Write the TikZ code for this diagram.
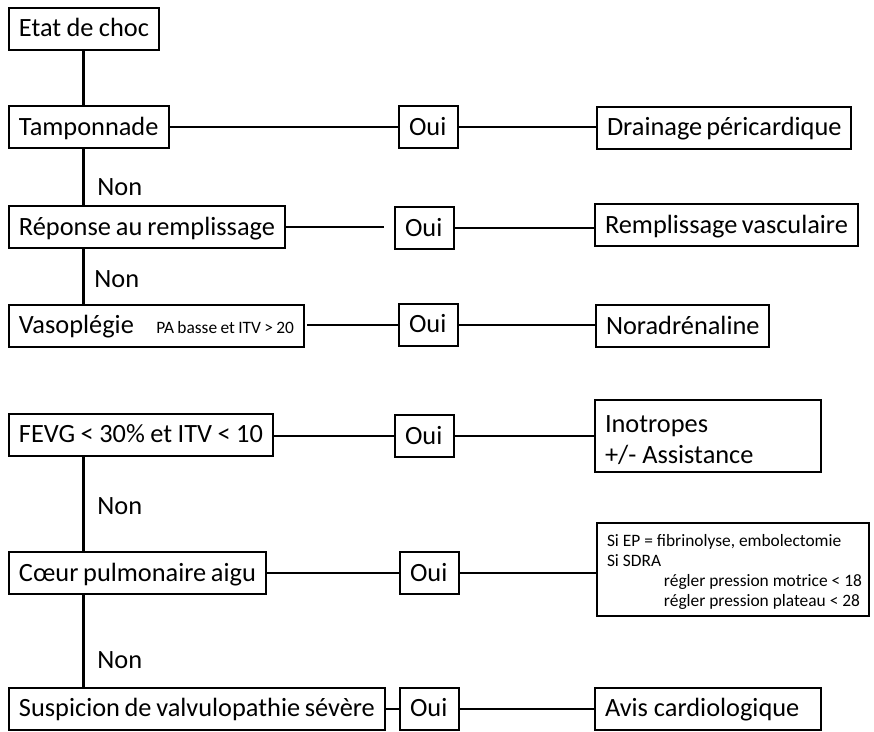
\documentclass[tikz,border=0pt]{standalone}
\usepackage{fontspec}
\setmainfont{Carlito}
\newcommand{\bigtxt}{\fontsize{15}{17.6}\selectfont}
\newcommand{\smalltxt}{\fontsize{9.9}{11.4}\selectfont}

\begin{document}
\begin{tikzpicture}[x=0.02cm, y=-0.02cm,
      box/.style={draw, fill=white, line width=0.04cm, anchor=west,
        inner xsep=0.2cm, inner ysep=0pt, minimum height=0.84cm, font=\bigtxt,
        text height=0.42cm, text depth=0.1cm,
        execute at begin node={\hbox to #1\bgroup}, execute at end node={\hfil\egroup}},
      tall/.style={text height={}, text depth={}},
      link/.style={line width=0.04cm},
      trunk/.style={line width=0.06cm},
      non/.style={anchor=west, inner sep=0pt, font=\bigtxt}
  ]
  \useasboundingbox (0,0) rectangle (874,731);

  % Questions on the left
  \node[box=2.6cm] (choc) at (8,28.5) {Etat de choc};
  \node[box=2.8cm] (tamp) at (8,127) {Tamponnade};
  \node[box=5.12cm] (rep) at (8,227) {Réponse au remplissage};
  \node[box=5.5cm] (vaso) at (8,325.5) {Vasoplégie\hspace{0.45cm}{\smalltxt PA basse et ITV > 20}};
  \node[box=4.88cm] (fevg) at (8,434.5) {FEVG < 30\% et ITV < 10};
  \node[box=4.74cm] (coeur) at (8,573) {Cœur pulmonaire aigu};
  \node[box=7.12cm] (susp) at (8,708.5) {Suspicion de valvulopathie sévère};

  % Oui boxes
  \node[box=0.78cm] (oui1) at (398,127) {Oui};
  \node[box=0.78cm] (oui2) at (394,228) {Oui};
  \node[box=0.78cm] (oui3) at (398,324.5) {Oui};
  \node[box=0.78cm] (oui4) at (394,436) {Oui};
  \node[box=0.78cm] (oui5) at (399,573) {Oui};
  \node[box=0.78cm] (oui6) at (399,708.5) {Oui};

  % Treatments on the right
  \node[box=4.68cm] (drain) at (596,127.5) {Drainage péricardique};
  \node[box=4.86cm] (rempl) at (594,225) {Remplissage vasculaire};
  \node[box=3.06cm] (nora) at (595,326) {Noradrénaline};
  \node[box=4.12cm, tall, minimum height=1.44cm] (inot) at (594,436)
    {\raisebox{-0.12cm}[\height][\depth]{\begin{tabular}{@{}l@{}}Inotropes\\+/- Assistance\end{tabular}}};
  \node[box=5.04cm, tall, minimum height=1.86cm, font=\smalltxt] (sdra) at (596,569.5)
    {\raisebox{-0.06cm}[\height][\depth]{\begin{tabular}{@{}l@{}}Si EP = fibrinolyse, embolectomie\\Si SDRA\\
     \hspace*{1.14cm}régler pression motrice < 18\\
     \hspace*{1.14cm}régler pression plateau < 28\end{tabular}}};
  \node[box=4.12cm] (avis) at (594,708.5) {Avis cardiologique};

  % Trunk going down
  \draw[trunk] (choc.south) -- (choc.south |- tamp.north);
  \draw[trunk] (choc.south |- tamp.south) -- (choc.south |- rep.north);
  \draw[trunk] (choc.south |- rep.south) -- (choc.south |- vaso.north);
  \draw[trunk] (choc.south |- fevg.south) -- (choc.south |- coeur.north);
  \draw[trunk] (choc.south |- coeur.south) -- (choc.south |- susp.north);

  \node[non] (non1) at (97,187) {Non};
  \node[non] (non2) at (94,279) {Non};
  \node[non] (non3) at (97,506) {Non};
  \node[non] (non4) at (97,660) {Non};

  % Oui branches
  \coordinate (gap2) at (384,227);
  \coordinate (gap3) at (307,325);
  \draw[link] (tamp) -- (oui1);
  \draw[link] (oui1) -- (oui1 -| drain.west);
  \draw[link] (rep) -- (gap2);
  \draw[link] (oui2) -- (oui2 -| rempl.west);
  \draw[link] (gap3) -- (gap3 -| oui3.west);
  \draw[link] (oui3) -- (oui3 -| nora.west);
  \draw[link] (fevg.east |- oui4) -- (oui4);
  \draw[link] (oui4) -- (inot);
  \draw[link] (coeur) -- (oui5);
  \draw[link] (oui5) -- (oui5 -| sdra.west);
  \draw[link] (susp) -- (oui6);
  \draw[link] (oui6) -- (avis);

\end{tikzpicture}
\end{document}
